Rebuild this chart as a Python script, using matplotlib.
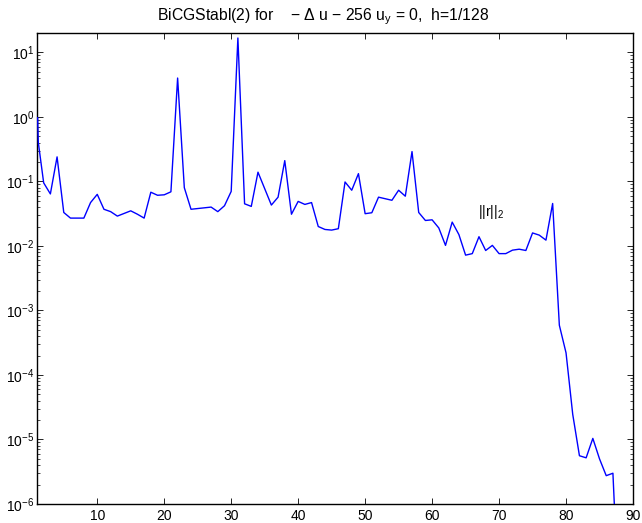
import matplotlib
matplotlib.use("Agg")
import matplotlib.pyplot as plt
from matplotlib.ticker import LogLocator, NullFormatter

plt.rcParams['font.family'] = ['Liberation Sans', 'DejaVu Sans']
plt.rcParams['mathtext.fontset'] = 'custom'
plt.rcParams['mathtext.rm'] = 'Liberation Sans'
plt.rcParams['mathtext.it'] = 'Liberation Sans'
plt.rcParams['mathtext.default'] = 'regular'

# residual norm history of BiCGStab(2)
iters = [1.1, 1.2, 2, 3, 4, 5, 6, 7, 8, 9, 10, 11, 12, 13, 15, 16, 17, 18, 19, 20,
         21, 22, 23, 24, 27, 28, 29, 30, 31, 32, 33, 34, 36, 37, 38, 39, 40, 41,
         42, 43, 44, 45, 46, 47, 48, 49, 50, 51, 52, 54, 55, 56, 57, 58, 59, 60,
         61, 62, 63, 64, 65, 66, 67, 68, 69, 70, 71, 72, 73, 74, 75, 76, 77, 78,
         79, 80, 81, 82, 83, 84, 85, 86, 87, 88]
resid = [0.97, 0.40, 0.095, 0.064, 0.24, 0.033, 0.027, 0.027, 0.027, 0.047,
         0.063, 0.037, 0.034, 0.029, 0.035, 0.031, 0.027, 0.068, 0.061, 0.062,
         0.069, 4.0, 0.080, 0.037, 0.040, 0.034, 0.042, 0.070, 16.7, 0.045,
         0.041, 0.139, 0.043, 0.057, 0.21, 0.031, 0.049, 0.044, 0.047, 0.020,
         0.018, 0.0176, 0.0185, 0.098, 0.073, 0.132, 0.0316, 0.0327, 0.057,
         0.051, 0.073, 0.059, 0.29, 0.033, 0.0248, 0.0254, 0.019, 0.0102,
         0.0234, 0.015, 0.0072, 0.0076, 0.0139, 0.0085, 0.0102, 0.0076, 0.0076,
         0.0086, 0.0089, 0.0085, 0.0159, 0.0147, 0.0123, 0.0455, 5.9e-4,
         2.2e-4, 2.45e-5, 5.6e-6, 5.2e-6, 1.04e-5, 5.0e-6, 2.75e-6, 3.0e-6,
         1.5e-8]

xticks = [10, 20, 30, 40, 50, 60, 70, 80, 90]
title = 'BiCGStabl(2) for    \u2212 \u0394 u \u2212 256 u$_y$ = 0,  h=1/128'
label = '$||r||_2$'

fig = plt.figure(figsize=(6.42, 5.23), dpi=100)
ax = fig.add_axes([0.0576, 0.0363, 0.9284, 0.9007])
ax.semilogy(iters, resid, color=(0, 0, 1), lw=1.0, zorder=3)
ax.set_xlim(1, 90)
ax.set_ylim(1e-6, 20)
ax.set_xticks(xticks)
ax.yaxis.set_major_locator(LogLocator(base=10, numticks=20))
ax.yaxis.set_minor_locator(LogLocator(base=10, subs=range(2, 10), numticks=50))
ax.yaxis.set_minor_formatter(NullFormatter())
ax.tick_params(which='both', direction='in', top=True, right=True, labelsize=10)
ax.tick_params(axis='y', pad=2)
ax.tick_params(which='major', length=4, width=0.6)
ax.tick_params(which='minor', length=2.5, width=0.5)
for s in ax.spines.values():
    s.set_linewidth(1.0)
ax.set_title(title, fontsize=11.3, pad=9, x=0.48)
ax.text(66.9, 0.029, label, fontsize=10)

fig.savefig('out.png', dpi=100)
